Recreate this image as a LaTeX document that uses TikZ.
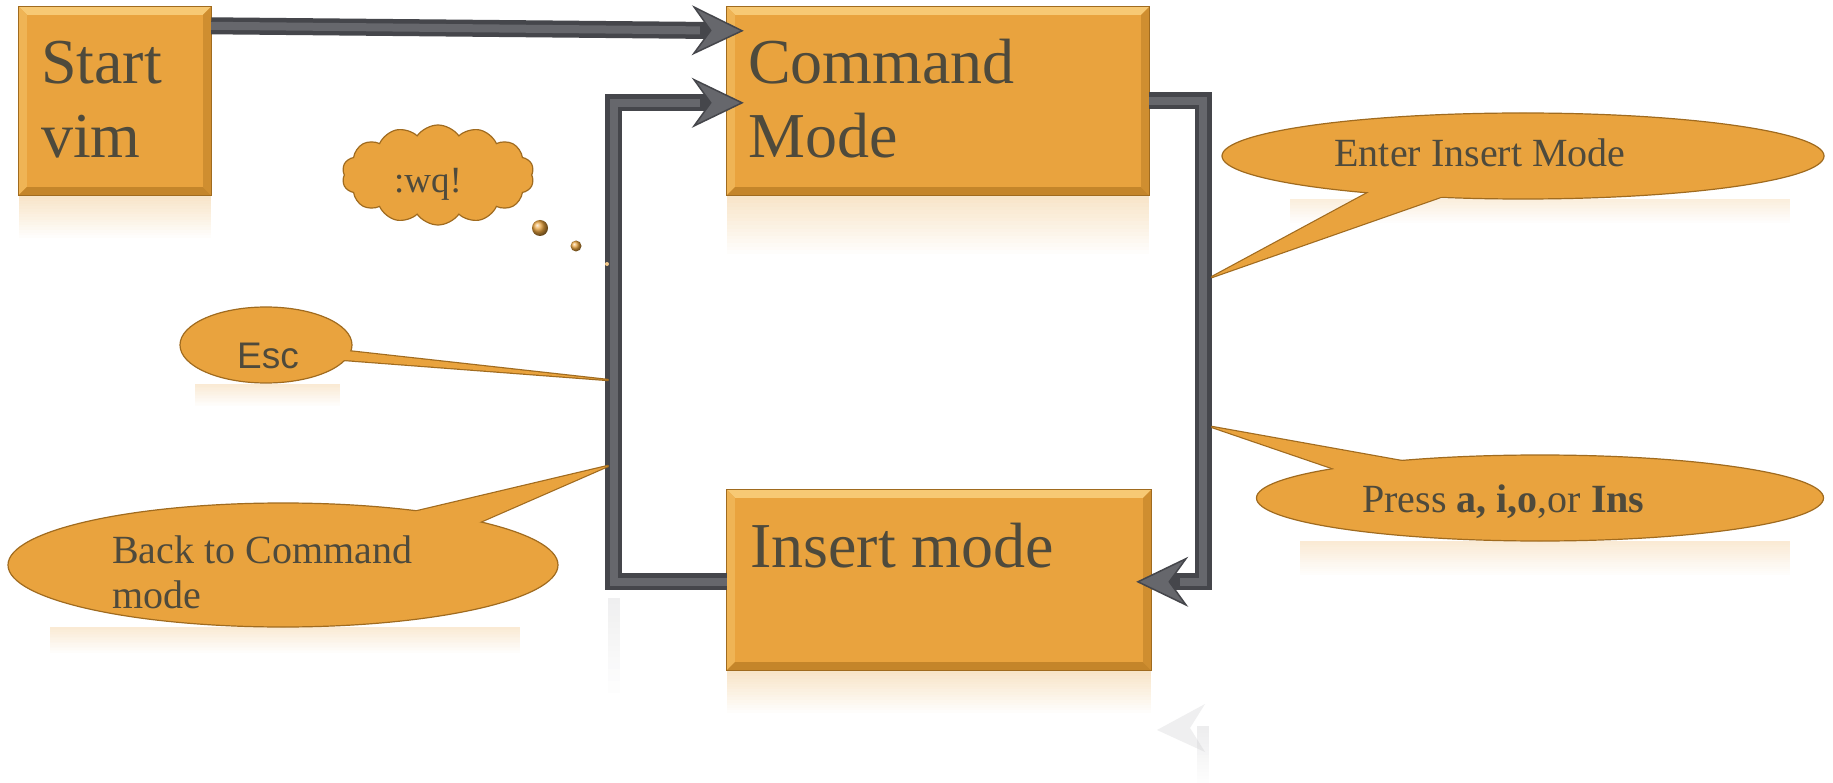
\documentclass[tikz,border=0pt]{standalone}
\usepackage{fontspec}
\setmainfont{Liberation Serif}
\newfontfamily\arialfont{Liberation Sans}
\usetikzlibrary{arrows.meta,shapes.geometric,shapes.symbols,calc}

\definecolor{boxfill}{HTML}{E9A33E}
\definecolor{boxlight}{HTML}{F7C974}
\definecolor{boxmid}{HTML}{EFB455}
\definecolor{boxdark}{HTML}{C4852A}
\definecolor{boxrim}{HTML}{A06B1F}
\definecolor{txt}{HTML}{4E4A3C}
\definecolor{pipe}{HTML}{45464B}
\definecolor{pipecore}{HTML}{66676C}
\definecolor{ghost}{HTML}{B8B8BC}

% bevelled edges of a mode box
\newcommand\modebevel[1]{%
  \fill[boxlight] (#1.north west) -- (#1.north east) -- ([shift={(-8pt,-8pt)}]#1.north east) -- ([shift={(8pt,-8pt)}]#1.north west) -- cycle;
  \fill[boxmid] (#1.north west) -- ([shift={(8pt,-8pt)}]#1.north west) -- ([shift={(8pt,8pt)}]#1.south west) -- (#1.south west) -- cycle;
  \fill[boxdark] (#1.south west) -- ([shift={(8pt,8pt)}]#1.south west) -- ([shift={(-8pt,8pt)}]#1.south east) -- (#1.south east) -- cycle;
  \fill[boxdark!70!boxfill] (#1.south east) -- ([shift={(-8pt,8pt)}]#1.south east) -- ([shift={(-8pt,-8pt)}]#1.north east) -- (#1.north east) -- cycle;
  \draw[boxrim, line width=1pt] (#1.north west) rectangle (#1.south east);
}

% fading reflection strip: left x, top y, right x, height, colour, start opacity
\newcommand\mirrorband[6]{%
  \foreach \k in {0,...,15} {
    \pgfmathsetmacro\op{#6*(1-\k/16)}
    \fill[#5, opacity=\op] (#1,{#2+\k*#4/16}) rectangle (#3,{#2+(\k+1)*#4/16});
  }
}

% speech bubble: name, centre, width, height, base angle 1, base angle 2, tip
\newcommand\speech[7]{%
  \node[ellipse, minimum width=#3pt, minimum height=#4pt, inner sep=0pt] (#1) at #2 {};
  \draw[boxrim, line width=2.4pt, line join=round]
    ($(#1.center)!0.85!(#1.#5)$) -- (#7) -- ($(#1.center)!0.85!(#1.#6)$);
  \filldraw[fill=boxfill, draw=boxrim, line width=1.2pt] (#1.center) ellipse [x radius=#3/2, y radius=#4/2];
  \fill[boxfill] ($(#1.center)!0.85!(#1.#5)$) -- (#7) -- ($(#1.center)!0.85!(#1.#6)$) -- cycle;
}

\begin{document}
\begin{tikzpicture}[x=1pt, y=-1pt,
  modebox/.style={rectangle, fill=boxfill, inner sep=0pt},
  bigtext/.style={font=\fontsize{64}{74}\selectfont, text=txt, inner sep=0pt, anchor=base west},
  notetext/.style={font=\fontsize{40}{46}\selectfont, text=txt, inner sep=0pt},
  pipeline/.style={draw=pipe, line width=17pt, line join=miter,
    -{Stealth[length=52pt, width=50pt, inset=18pt, line width=1.5pt, fill=pipecore]}},
  pipecoreline/.style={draw=pipecore, line width=8pt, line join=miter, shorten >=44pt},
]
\useasboundingbox (0,0) rectangle (1833,783);
\fill[white] (0,0) rectangle (1833,783);

% ---------- soft reflections ----------
\mirrorband{19}{196}{211}{42}{boxfill}{0.28}
\mirrorband{727}{196}{1149}{58}{boxfill}{0.28}
\mirrorband{727}{671}{1151}{42}{boxfill}{0.28}
\mirrorband{195}{384}{340}{22}{boxfill}{0.22}
\mirrorband{50}{627}{520}{26}{boxfill}{0.22}
\mirrorband{1290}{199}{1790}{24}{boxfill}{0.18}
\mirrorband{1300}{541}{1790}{34}{boxfill}{0.22}
% faint mirrored connectors
\mirrorband{608}{598}{620}{95}{ghost}{0.22}
\mirrorband{1197}{726}{1209}{57}{ghost}{0.25}
\fill[ghost, opacity=0.22] (1157,730) -- (1205,704) -- (1190,728) -- (1205,752) -- cycle;

% ---------- mode boxes ----------
\node[modebox, minimum width=192pt, minimum height=188pt] (start) at (115,101) {};
\node[modebox, minimum width=422pt, minimum height=188pt] (cmd) at (938,101) {};
\node[modebox, minimum width=424pt, minimum height=180pt] (ins) at (939,580) {};

\modebevel{start}
\modebevel{cmd}
\modebevel{ins}

\node[bigtext] (startA) at (41,84) {Start};
\node[bigtext] (startB) at (41,158) {vim};
\node[bigtext] (cmdA) at (748,84) {Command};
\node[bigtext] (cmdB) at (748,158) {Mode};
\node[bigtext] (insA) at (750,567) {Insert mode};

% ---------- connectors ----------
\coordinate (startOut) at ([yshift=-19pt]start.north east);
\coordinate (cmdInA) at ([shift={(17pt,-24pt)}]cmd.north west);
\coordinate (insOut) at ([yshift=-92pt]ins.north west);
\coordinate (cmdInB) at ([shift={(17pt,-96pt)}]cmd.north west);
\coordinate (cmdOut) at ([yshift=-94pt]cmd.north east);
\coordinate (insIn) at ([shift={(-15pt,-92pt)}]ins.north east);

\draw[pipeline] (startOut) -- (cmdInA);
\draw[pipecoreline] (startOut) -- (cmdInA);

\draw[pipeline] (insOut) -| ([xshift=-130pt]cmdInB) -- (cmdInB);
\draw[pipecoreline] (insOut) -| ([xshift=-130pt]cmdInB) -- (cmdInB);

\draw[pipeline] (cmdOut) -| ([xshift=67pt]insIn) -- (insIn);
\draw[pipecoreline] (cmdOut) -| ([xshift=67pt]insIn) -- (insIn);

% ---------- thought cloud ----------
\node[cloud, cloud puffs=14, cloud puff arc=110, cloud ignores aspect,
      minimum width=192pt, minimum height=100pt, inner sep=0pt,
      fill=boxfill, draw=boxrim, line width=1.2pt] (wq) at (438,175) {};
\node[notetext, font=\fontsize{37}{42}\selectfont, anchor=base] (wqT) at (428,193) {:wq!};
\node[circle, minimum size=16pt, inner sep=0pt, ball color=boxfill] (dotA) at (540,228) {};
\node[circle, minimum size=11pt, inner sep=0pt, ball color=boxfill] (dotB) at (576,246) {};
\node[circle, minimum size=4pt, inner sep=0pt, fill=boxfill!60] (dotC) at (607,264) {};

% ---------- callouts ----------
\coordinate (escTip) at (608,380);
\coordinate (backTip) at (608,466);
\coordinate (enterTip) at (1212,277);
\coordinate (pressTip) at (1212,427);

\speech{esc}{(266,345)}{172}{76}{-4}{-12}{escTip}
\speech{back}{(283,565)}{550}{124}{24}{11}{backTip}
\speech{enter}{(1523,156)}{602}{86}{192}{208}{enterTip}
\speech{press}{(1540,498)}{567}{86}{164}{173}{pressTip}

\node[notetext, font=\fontsize{37}{42}\selectfont\arialfont, anchor=base] (escT) at (268,368) {Esc};
\node[notetext, anchor=base west] (backA) at (112,563) {Back to Command};
\node[notetext, anchor=base west] (backB) at (112,608) {mode};
\node[notetext, anchor=base] (enterT) at (1480,167) {Enter Insert Mode};
\node[notetext, anchor=base west] (pressT) at (1362,512) {Press \textbf{a,} \textbf{i,o},or \textbf{Ins}};
\end{tikzpicture}
\end{document}
